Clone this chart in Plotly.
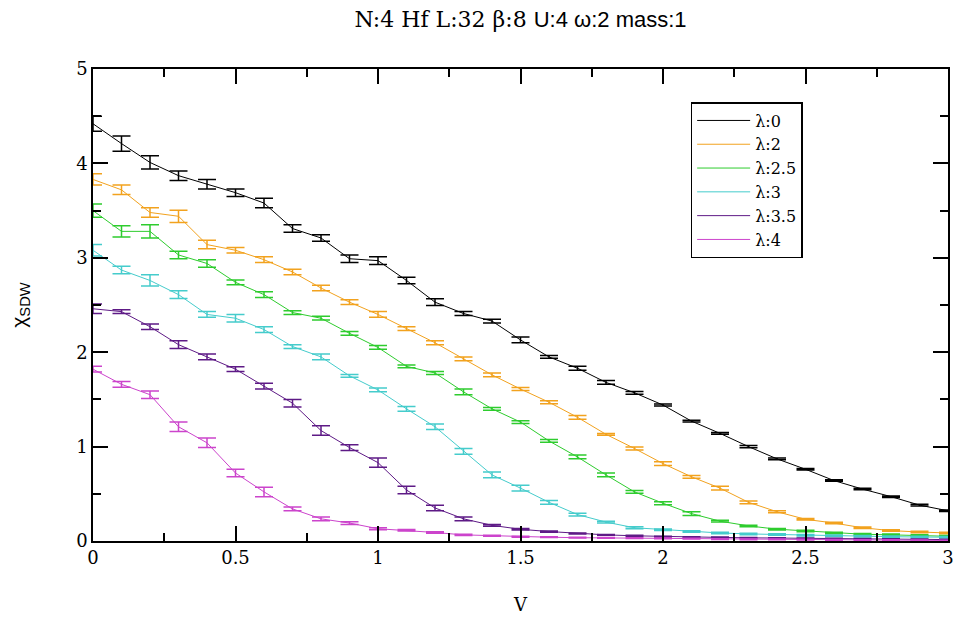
import plotly.graph_objects as go

# Interaction strength V
V = [round(0.1 * i, 1) for i in range(31)]

# chi_SDW for each phonon coupling lambda, with statistical errors
chi_l0 = [4.42, 4.21, 4.01, 3.87, 3.78, 3.69, 3.58, 3.31, 3.21, 2.99,
          2.97, 2.76, 2.53, 2.41, 2.33, 2.13, 1.95, 1.83, 1.68, 1.57,
          1.44, 1.27, 1.14, 1.00, 0.87, 0.76, 0.64, 0.55, 0.47, 0.38, 0.32]
err_l0 = [0.08, 0.08, 0.07, 0.05, 0.05, 0.04, 0.05, 0.04, 0.035, 0.04,
          0.04, 0.035, 0.035, 0.02, 0.02, 0.03, 0.015, 0.02, 0.02, 0.015,
          0.01, 0.01, 0.01, 0.012, 0.01, 0.008, 0.008, 0.008, 0.008, 0.008, 0.008]

chi_l2 = [3.83, 3.72, 3.48, 3.44, 3.14, 3.08, 2.98, 2.85, 2.68, 2.53,
          2.40, 2.25, 2.10, 1.93, 1.76, 1.61, 1.47, 1.31, 1.13, 0.98,
          0.82, 0.68, 0.56, 0.41, 0.31, 0.23, 0.19, 0.14, 0.11, 0.095, 0.085]
err_l2 = [0.06, 0.05, 0.05, 0.065, 0.045, 0.03, 0.03, 0.03, 0.03, 0.025,
          0.03, 0.02, 0.02, 0.02, 0.02, 0.015, 0.015, 0.02, 0.01, 0.015,
          0.02, 0.015, 0.02, 0.015, 0.01, 0.008, 0.008, 0.008, 0.008, 0.008, 0.008]

chi_l25 = [3.50, 3.28, 3.28, 3.03, 2.94, 2.74, 2.61, 2.42, 2.36, 2.20,
           2.05, 1.85, 1.78, 1.58, 1.40, 1.26, 1.06, 0.89, 0.70, 0.52,
           0.40, 0.29, 0.21, 0.16, 0.125, 0.105, 0.085, 0.072, 0.065, 0.058, 0.05]
err_l25 = [0.07, 0.06, 0.07, 0.04, 0.04, 0.025, 0.03, 0.02, 0.02, 0.02,
           0.02, 0.015, 0.015, 0.03, 0.015, 0.015, 0.015, 0.02, 0.02, 0.015,
           0.015, 0.02, 0.01, 0.008, 0.008, 0.008, 0.008, 0.008, 0.008, 0.008, 0.008]

chi_l3 = [3.08, 2.87, 2.76, 2.61, 2.40, 2.36, 2.24, 2.06, 1.95, 1.75,
          1.60, 1.40, 1.21, 0.95, 0.70, 0.56, 0.41, 0.28, 0.20, 0.14,
          0.12, 0.10, 0.085, 0.075, 0.068, 0.062, 0.056, 0.05, 0.046, 0.042, 0.04]
err_l3 = [0.06, 0.04, 0.06, 0.04, 0.03, 0.04, 0.03, 0.02, 0.03, 0.015,
          0.02, 0.025, 0.03, 0.03, 0.03, 0.03, 0.02, 0.015, 0.01, 0.01,
          0.008, 0.008, 0.008, 0.008, 0.008, 0.008, 0.008, 0.008, 0.008, 0.008, 0.008]

chi_l35 = [2.46, 2.43, 2.27, 2.08, 1.95, 1.82, 1.64, 1.46, 1.17, 0.99,
           0.83, 0.54, 0.35, 0.235, 0.166, 0.124, 0.10, 0.08, 0.065, 0.055,
           0.047, 0.042, 0.038, 0.034, 0.031, 0.028, 0.025, 0.022, 0.02, 0.018, 0.015]
err_l35 = [0.05, 0.02, 0.03, 0.04, 0.03, 0.025, 0.03, 0.04, 0.05, 0.03,
           0.05, 0.04, 0.03, 0.02, 0.01, 0.008, 0.006, 0.006, 0.005, 0.005,
           0.004, 0.004, 0.004, 0.004, 0.004, 0.004, 0.004, 0.004, 0.004, 0.004, 0.004]

chi_l4 = [1.82, 1.66, 1.55, 1.21, 1.04, 0.72, 0.52, 0.34, 0.235, 0.19,
          0.13, 0.114, 0.09, 0.065, 0.055, 0.045, 0.04, 0.035, 0.032, 0.03,
          0.027, 0.024, 0.021, 0.018, 0.016, 0.014, 0.012, 0.01, 0.008, 0.007, 0.005]
err_l4 = [0.03, 0.03, 0.04, 0.05, 0.05, 0.04, 0.05, 0.02, 0.02, 0.015,
          0.01, 0.008, 0.008, 0.006, 0.005, 0.005, 0.004, 0.004, 0.004, 0.004,
          0.004, 0.004, 0.004, 0.004, 0.004, 0.004, 0.004, 0.004, 0.004, 0.004, 0.004]

series_names = ["λ:0", "λ:2", "λ:2.5", "λ:3", "λ:3.5", "λ:4"]
series_chi = [chi_l0, chi_l2, chi_l25, chi_l3, chi_l35, chi_l4]
series_err = [err_l0, err_l2, err_l25, err_l3, err_l35, err_l4]
series_colors = ["#000000", "#F2A21E", "#2ECC2E", "#45CCCC", "#5E1A86", "#CC44CC"]

x_ticks = [0, 0.5, 1, 1.5, 2, 2.5, 3]
x_tick_labels = ["0", "0.5", "1", "1.5", "2", "2.5", "3"]
y_ticks = [0, 1, 2, 3, 4, 5]
y_tick_labels = ["0", "1", "2", "3", "4", "5"]

serif = "DejaVu Serif"
sans = "Liberation Sans"

fig = go.Figure()
for name, chi, err, col in zip(series_names, series_chi, series_err, series_colors):
    fig.add_trace(go.Scatter(
        x=V, y=chi, name=name, mode="lines",
        line=dict(color=col, width=1),
        error_y=dict(type="data", array=err, visible=True,
                     color=col, thickness=1.5, width=9),
    ))

axis_common = dict(
    showline=True, linecolor="black", linewidth=1.5, mirror="ticks",
    ticks="inside", ticklen=15, tickwidth=1.5, tickcolor="black",
    showgrid=False, zeroline=False,
    tickfont=dict(family=serif, size=18, color="black"),
)

fig.update_layout(
    width=962, height=620,
    margin=dict(l=93, r=8, t=69, b=68),
    paper_bgcolor="white", plot_bgcolor="white",
    font=dict(family=serif),
    title=dict(
        text="N:4 Hf L:32 β:8 <span style='font-family:Liberation Sans'>U:4 ω:2 mass:1</span>",
        font=dict(family=serif, size=22, color="black"),
        x=0.5, xref="paper", xanchor="center",
        y=1 - 19 / 620, yref="container", yanchor="middle",
    ),
    xaxis=dict(
        range=[0, 3], tickvals=x_ticks, ticktext=x_tick_labels,
        minor=dict(dtick=0.25, tick0=0, ticks="inside", ticklen=8,
                   tickwidth=1.5, tickcolor="black"),
        title=dict(text="V", font=dict(family=serif, size=18, color="black"),
                   standoff=31),
        **axis_common,
    ),
    yaxis=dict(
        range=[0, 5], tickvals=y_ticks, ticktext=y_tick_labels,
        minor=dict(dtick=0.5, tick0=0, ticks="inside", ticklen=8,
                   tickwidth=1.5, tickcolor="black"),
        title=dict(text="χ<sub>SDW</sub>",
                   font=dict(family=sans, size=21, color="black"),
                   standoff=44),
        **axis_common,
    ),
    legend=dict(
        x=0.699, y=0.93, xanchor="left", yanchor="top",
        bgcolor="white", bordercolor="black", borderwidth=1.5,
        font=dict(family=serif, size=16, color="black"),
        tracegroupgap=0, itemwidth=53,
    ),
    showlegend=True,
)

fig.write_html("out.html")
